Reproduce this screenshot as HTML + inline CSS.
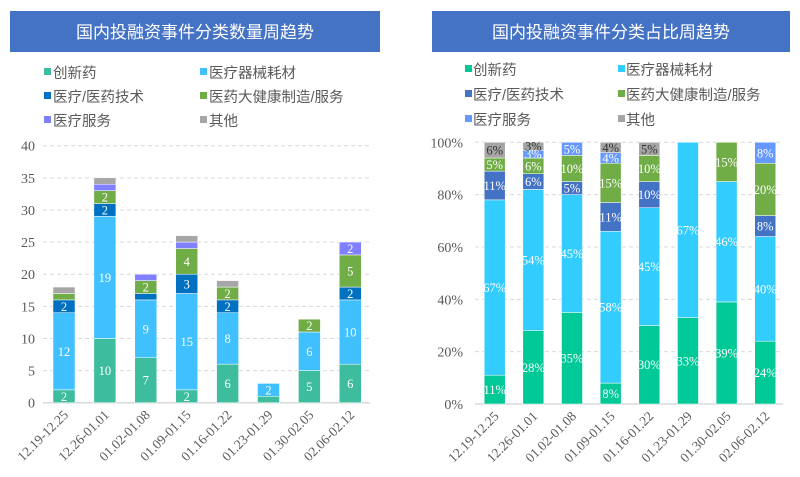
<!DOCTYPE html>
<html><head><meta charset="utf-8"><style>
body{margin:0;background:#fff;width:800px;height:472px;overflow:hidden}
svg{font-family:"Liberation Serif","Noto Serif CJK SC",serif}
.cj{font-family:"Liberation Sans","Noto Sans CJK SC",sans-serif}
</style></head><body>
<svg width="800" height="472" xmlns="http://www.w3.org/2000/svg" id="s">
<rect x="10" y="11" width="370" height="41" fill="#4472c4"/>
<text x="195" y="38" class="cj" font-size="17" fill="#fff" text-anchor="middle">国内投融资事件分类数量周趋势</text>
<rect x="432" y="11" width="358" height="41" fill="#4472c4"/>
<text x="611" y="38" class="cj" font-size="17" fill="#fff" text-anchor="middle">国内投融资事件分类占比周趋势</text>
<g class="cj" font-size="14.5" fill="#595959">
<rect x="44" y="68" width="7" height="7" fill="#3dbd9d"/><text x="53" y="78">创新药</text>
<rect x="200" y="68" width="7" height="7" fill="#40c0ff"/><text x="209" y="78">医疗器械耗材</text>
<rect x="44" y="92" width="7" height="7" fill="#0070c0"/><text x="53" y="102">医疗/医药技术</text>
<rect x="200" y="92" width="7" height="7" fill="#70ad47"/><text x="209" y="102">医药大健康制造/服务</text>
<rect x="44" y="116" width="7" height="7" fill="#7f7fff"/><text x="53" y="126">医疗服务</text>
<rect x="200" y="116" width="7" height="7" fill="#a6a6a6"/><text x="209" y="126">其他</text>
<rect x="465" y="65" width="7" height="7" fill="#00c896"/><text x="473" y="75">创新药</text>
<rect x="618" y="65" width="7" height="7" fill="#33ccff"/><text x="626" y="75">医疗器械耗材</text>
<rect x="465" y="90" width="7" height="7" fill="#4472c4"/><text x="473" y="100">医疗/医药技术</text>
<rect x="618" y="90" width="7" height="7" fill="#70ad47"/><text x="626" y="100">医药大健康制造/服务</text>
<rect x="465" y="115" width="7" height="7" fill="#6699ff"/><text x="473" y="125">医疗服务</text>
<rect x="618" y="115" width="7" height="7" fill="#a5a5a5"/><text x="626" y="125">其他</text>
</g>
<g id="L"></g><g id="R"></g>
</svg>
<script>
var NS="http://www.w3.org/2000/svg";
function el(p,t,a,txt){var e=document.createElementNS(NS,t);for(var k in a)e.setAttribute(k,a[k]);if(txt!=null)e.textContent=txt;p.appendChild(e);return e;}
var cats=["12.19-12.25","12.26-01.01","01.02-01.08","01.09-01.15","01.16-01.22","01.23-01.29","01.30-02.05","02.06-02.12"];
function chart(g,opt){
 var y0=opt.y0,y1=opt.y1,max=opt.max;
 var sc=(y0-y1)/max;
 for(var i=0;i<=opt.steps;i++){var v=max*i/opt.steps,y=y0-v*sc;
  if(i>0)el(g,"line",{x1:opt.gx0,x2:opt.gx1,y1:y,y2:y,stroke:"#d9d9d9","stroke-dasharray":"4,3"});
  el(g,"text",{x:opt.lx,y:y+5,"font-size":14,fill:"#595959","text-anchor":"end"},opt.fmt(v));}
 el(g,"line",{x1:opt.gx0,x2:opt.gx1,y1:y0,y2:y0,stroke:"#d9d9d9","stroke-width":1.5});
 opt.data.forEach(function(d,i){var cx=opt.c0+i*opt.sp,acc=0;
  d.forEach(function(v,j){if(!v)return;var yt=y0-(acc+v)*sc,h=v*sc;
   el(g,"rect",{x:cx-opt.w/2,y:yt,width:opt.w,height:h,fill:opt.cols[j],stroke:"#fff","stroke-width":0.5});
   if(opt.lab(v,h))el(g,"text",{x:cx,y:yt+h/2+4.5,"font-size":12.5,fill:opt.pct&&j==5?"#333":"#fff","text-anchor":"middle"},opt.fmtL(v));
   acc+=v;});
  var tx=cx+5,ty=y0+13;
  el(g,"text",{x:tx,y:ty,"font-size":13.5,fill:"#595959","text-anchor":"end",transform:"rotate(-45 "+tx+" "+ty+")"},cats[i]);
 });
}
chart(document.getElementById("L"),{y0:402.7,y1:145.7,max:40,steps:8,gx0:43,gx1:370,lx:35,c0:64,sp:40.9,w:22,
 cols:["#3dbd9d","#40c0ff","#0070c0","#70ad47","#7f7fff","#a6a6a6"],
 data:[[2,12,2,1,0,1],[10,19,2,2,1,1],[7,9,1,2,1,0],[2,15,3,4,1,1],[6,8,2,2,0,1],[1,2,0,0,0,0],[5,6,0,2,0,0],[6,10,2,5,2,0]],
 fmt:function(v){return v},fmtL:function(v){return v},lab:function(v){return v>=2}});
chart(document.getElementById("R"),{y0:404,y1:142.3,max:100,steps:5,gx0:475,gx1:783,lx:463,c0:494.7,sp:38.65,w:21,pct:1,
 cols:["#00c896","#33ccff","#4472c4","#70ad47","#6699ff","#a5a5a5"],
 data:[[11,67,11,5,0,6],[28,54,6,6,3,3],[35,45,5,10,5,0],[8,58,11,15,4,4],[30,45,10,10,0,5],[33,67,0,0,0,0],[39,46,0,15,0,0],[24,40,8,20,8,0]],
 fmt:function(v){return v+"%"},fmtL:function(v){return v+"%"},lab:function(v){return true}});
</script>
</body></html>
